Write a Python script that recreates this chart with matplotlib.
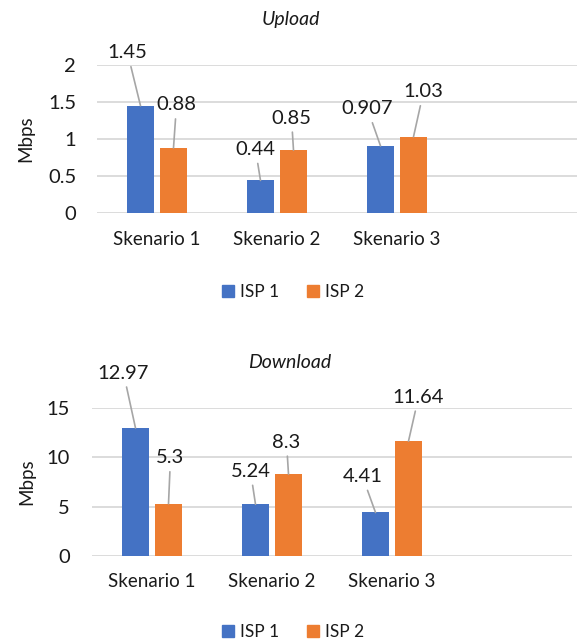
import numpy as np
import matplotlib.pyplot as plt
from matplotlib.patches import Patch

categories = ["Skenario 1", "Skenario 2", "Skenario 3"]
series_names = ["ISP 1", "ISP 2"]
upload_isp1 = [1.45, 0.44, 0.907]
upload_isp2 = [0.88, 0.85, 1.03]
upload_labels_isp1 = ["1.45", "0.44", "0.907"]
upload_labels_isp2 = ["0.88", "0.85", "1.03"]
download_isp1 = [12.97, 5.24, 4.41]
download_isp2 = [5.3, 8.3, 11.64]
download_labels_isp1 = ["12.97", "5.24", "4.41"]
download_labels_isp2 = ["5.3", "8.3", "11.64"]

BLUE = "#4472C4"
ORANGE = "#ED7D31"
GRID = "#d9d9d9"
LEADER = "#a6a6a6"
TXT = "#1a1a1a"
FONT = "Lato"

plt.rcParams["font.family"] = [FONT, "DejaVu Sans"]

W, H = 577, 644
fig = plt.figure(figsize=(W / 100, H / 100), dpi=100)

# label offsets in pixels (dx, dy up) from bar top centre
up_off1 = [(-13, 53), (-5, 31), (-13, 37)]
up_off2 = [(3, 43), (-2, 32), (10, 45)]
dn_off1 = [(-12, 55), (-5, 33), (-13, 36)]
dn_off2 = [(2, 46), (-2, 32), (10, 44)]


def draw_panel(rect, v1, v2, l1, l2, off1, off2, ymax, yticks, tickpad_y, tickpad_x):
    ax = fig.add_axes(rect)
    x = np.arange(len(categories))
    bw = 0.218
    d = 0.1375
    b1 = ax.bar(x - d, v1, bw, color=BLUE, zorder=3)
    b2 = ax.bar(x + d, v2, bw, color=ORANGE, zorder=3)
    ax.set_xlim(-0.5, 3.5)
    ax.set_ylim(0, ymax)
    ax.set_yticks(yticks)
    ax.set_yticklabels([f"{t:g}" for t in yticks], fontsize=14.5, color=TXT)
    ax.set_xticks(x)
    ax.set_xticklabels(categories, fontsize=13.5, color=TXT)
    ax.tick_params(axis="both", length=0)
    ax.tick_params(axis="y", pad=tickpad_y)
    ax.tick_params(axis="x", pad=tickpad_x)
    for s in ax.spines.values():
        s.set_visible(False)
    ax.grid(axis="y", color=GRID, linewidth=1.3, zorder=0)
    ax.set_axisbelow(True)
    for bars, vals, labs, offs in ((b1, v1, l1, off1), (b2, v2, l2, off2)):
        for r, v, lab, (dx, dy) in zip(bars, vals, labs, offs):
            ax.annotate(lab, xy=(r.get_x() + r.get_width() / 2, v),
                        xytext=(dx, dy), textcoords="offset pixels",
                        ha="center", va="center", fontsize=14.5, color=TXT,
                        annotation_clip=False,
                        arrowprops=dict(arrowstyle="-", color=LEADER, lw=1.2,
                                        shrinkA=2, shrinkB=0))
    return ax


ax1 = draw_panel([97 / W, 1 - 213 / H, 480 / W, 148 / H],
                 upload_isp1, upload_isp2, upload_labels_isp1, upload_labels_isp2,
                 up_off1, up_off2, 2, [0, 0.5, 1, 1.5, 2], 15, 13)
ax2 = draw_panel([92 / W, 1 - 556 / H, 480 / W, 148 / H],
                 download_isp1, download_isp2, download_labels_isp1, download_labels_isp2,
                 dn_off1, dn_off2, 15, [0, 5, 10, 15], 16, 12)

fig.text(291 / W, 1 - 19 / H, "Upload", ha="center", va="center",
         fontsize=14, style="italic", color=TXT)
fig.text(290 / W, 1 - 362 / H, "Download", ha="center", va="center",
         fontsize=14, style="italic", color=TXT)
fig.text(26 / W, 1 - 139 / H, "Mbps", rotation=90, ha="center", va="center",
         fontsize=13.5, color=TXT)
fig.text(27 / W, 1 - 482 / H, "Mbps", rotation=90, ha="center", va="center",
         fontsize=13.5, color=TXT)

handles = [Patch(color=BLUE), Patch(color=ORANGE)]
for yc in (292, 632):
    fig.legend(handles, series_names, loc="center", bbox_to_anchor=(293 / W, 1 - yc / H),
               ncol=2, frameon=False, fontsize=12.5, handlelength=0.7, handleheight=0.7,
               handletextpad=0.35, columnspacing=1.6, labelcolor=TXT)

fig.savefig("out.png", dpi=100)
